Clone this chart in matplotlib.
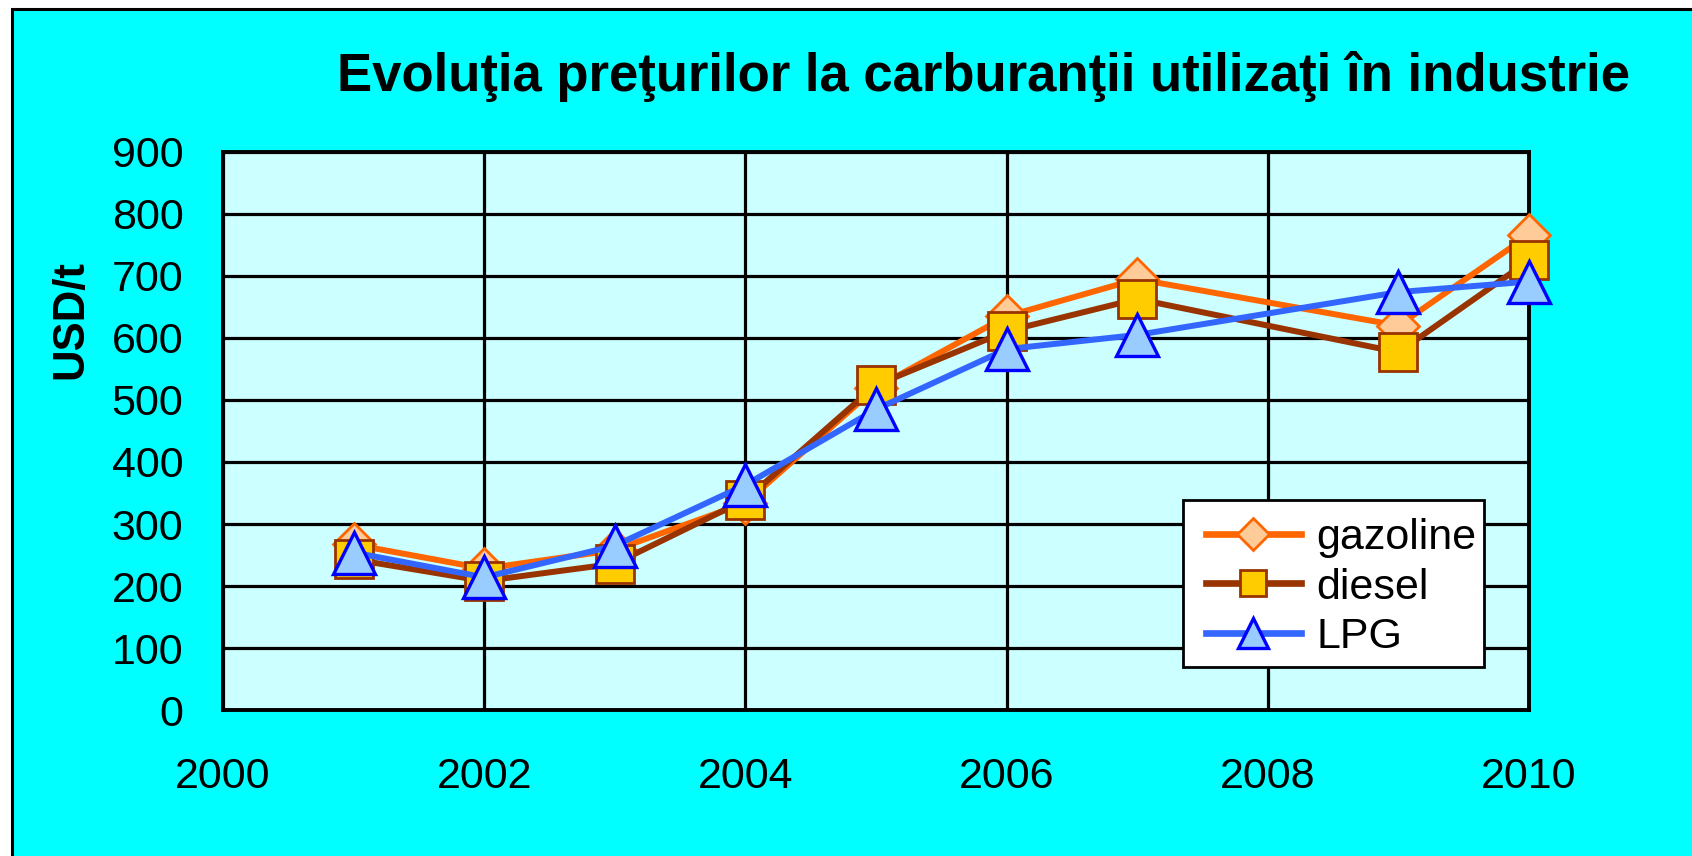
import matplotlib
matplotlib.use("Agg")
import matplotlib.pyplot as plt
from matplotlib.lines import Line2D
from matplotlib.patches import Rectangle

# ---- data ----
years = [2001, 2002, 2003, 2004, 2005, 2006, 2007, 2009, 2010]
gazoline = [267, 228, 258, 334, 520, 635, 695, 620, 766]
diesel = [243, 208, 236, 339, 524, 611, 663, 577, 725]
lpg = [254, 214, 265, 363, 485, 582, 605, 674, 691]
series_names = ["gazoline", "diesel", "LPG"]
x_ticks = [2000, 2002, 2004, 2006, 2008, 2010]
y_ticks = [0, 100, 200, 300, 400, 500, 600, 700, 800, 900]
title = "Evoluţia preţurilor la carburanţii utilizaţi în industrie"
y_label = "USD/t"

plt.rcParams['font.family'] = ['Liberation Sans', 'DejaVu Sans']

W, H = 1692, 856
fig = plt.figure(figsize=(W / 100, H / 100), dpi=100)
fig.patch.set_facecolor("white")

# outer cyan area with black border on top / left
bg = Rectangle((11.5 / W, -0.05), 1.1, 1 - 9 / H + 0.05, transform=fig.transFigure,
               facecolor="#00FFFF", edgecolor="black", linewidth=2.2, zorder=-10)
fig.patches.append(bg)

ax = fig.add_axes([223 / W, 1 - 710 / H, (1529 - 223) / W, (710 - 152) / H])
ax.set_facecolor("#CCFFFF")

styles = [
    dict(color="#FF6600", marker="D", ms=21, mfc="#FFCC99", mec="#FF6600", mew=2.0),
    dict(color="#993300", marker="s", ms=28, mfc="#FFCC00", mec="#993300", mew=2.0),
    dict(color="#3366FF", marker="^", ms=30, mfc="#99CCFF", mec="#0000FF", mew=2.4),
]
data = [gazoline, diesel, lpg]
for vals, st, name in zip(data, styles, series_names):
    ax.plot(years, vals, lw=4.3, zorder=3, label=name, clip_on=False, **st)

ax.set_xlim(2000, 2010)
ax.set_ylim(0, 900)
ax.set_xticks(x_ticks)
ax.set_yticks(y_ticks)
ax.grid(True, color="black", linewidth=2.3, zorder=1)
ax.set_axisbelow(True)
for sp in ax.spines.values():
    sp.set_linewidth(2.8)
    sp.set_color("black")
ax.tick_params(axis="both", length=0, labelsize=31)
ax.tick_params(axis="y", pad=28.5)
ax.tick_params(axis="x", pad=34)

fig.text(983 / W, 1 - 91 / H, title, ha="center", va="baseline",
         fontsize=38, fontweight="bold")
fig.text(71 / W, 1 - 320 / H, y_label, ha="center", va="center", rotation=90,
         fontsize=31.5, fontweight="bold")

# legend box drawn separately, legend entries without frame
leg_box = Rectangle((1183 / W, 1 - 667 / H), (1484 - 1183) / W, (667 - 500) / H,
                    transform=fig.transFigure, facecolor="white", edgecolor="black",
                    linewidth=2.0, zorder=4)
fig.patches.append(leg_box)

leg_ms = [16, 19, 22]
handles = []
for st, name, ms in zip(styles, series_names, leg_ms):
    s = dict(st)
    s["ms"] = ms
    handles.append(Line2D([], [], lw=4.8, label=name, **s))
leg = fig.legend(handles=handles, loc="upper left",
                 bbox_to_anchor=(1188 / W, 1 - 500 / H),
                 bbox_transform=fig.transFigure, fontsize=31,
                 frameon=False, borderpad=0.42, labelspacing=0.22,
                 handlelength=2.2, handletextpad=0.36, borderaxespad=0)
leg.set_zorder(5)

fig.savefig("out.png", dpi=100, facecolor=fig.get_facecolor())
